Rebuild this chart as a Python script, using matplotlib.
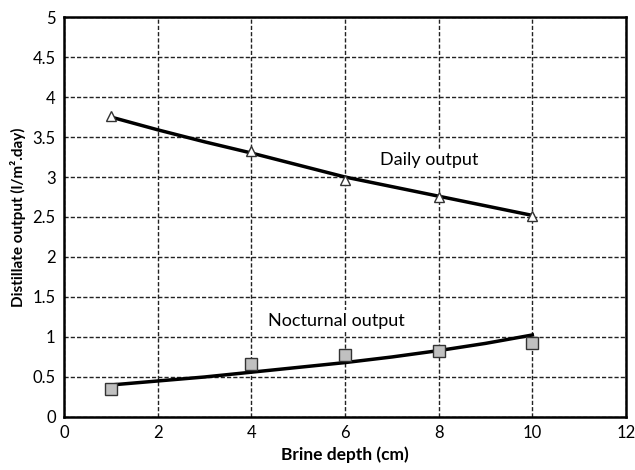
import matplotlib
matplotlib.use("Agg")
import matplotlib.pyplot as plt

plt.rcParams['font.family'] = ['Lato', 'DejaVu Sans']

depth = [1, 4, 6, 8, 10]
daily_obs = [3.76, 3.32, 2.96, 2.75, 2.51]
noct_obs = [0.35, 0.66, 0.78, 0.83, 0.93]

fit_x = [1, 2, 3, 4, 5, 6, 7, 8, 9, 10]
daily_fit = [3.75, 3.59, 3.44, 3.30, 3.15, 3.00, 2.88, 2.76, 2.64, 2.52]
noct_fit = [0.40, 0.45, 0.50, 0.56, 0.62, 0.68, 0.75, 0.83, 0.92, 1.025]

xticks = [0, 2, 4, 6, 8, 10, 12]
yticks = [0, 0.5, 1, 1.5, 2, 2.5, 3, 3.5, 4, 4.5, 5]
yticklabels = ['0', '0.5', '1', '1.5', '2', '2.5', '3', '3.5', '4', '4.5', '5']

fig = plt.figure(figsize=(6.35, 4.70), dpi=100)
ax = fig.add_axes([0.1008, 0.1128, 0.885, 0.851])

ax.plot(fit_x, daily_fit, color='black', lw=2.5, zorder=3)
ax.plot(fit_x, noct_fit, color='black', lw=2.5, zorder=3)
ax.plot(depth, daily_obs, linestyle='none', marker='^', markersize=7,
        markerfacecolor='white', markeredgecolor='#333333', markeredgewidth=1, zorder=4)
ax.plot(depth, noct_obs, linestyle='none', marker='s', markersize=8,
        markerfacecolor='#c0c0c0', markeredgecolor='#333333', markeredgewidth=1, zorder=4)

ax.set_xlim(0, 12)
ax.set_ylim(0, 5)
ax.set_xticks(xticks)
ax.set_yticks(yticks)
ax.set_yticklabels(yticklabels)
ax.tick_params(length=0, labelsize=12, pad=6)
ax.grid(True, color='#222222', linestyle=(0, (3, 1.5)), linewidth=1)
for s in ax.spines.values():
    s.set_linewidth(1.8)

ax.set_xlabel('Brine depth (cm)', fontsize=12.5, fontweight='bold', labelpad=4)
ax.set_ylabel('Distillate output (l/m\u00b2.day)', fontsize=11, fontweight='bold', labelpad=5)

box = dict(facecolor='white', edgecolor='none', pad=2)
ax.text(6.74, 3.21, 'Daily output', fontsize=13, va='center', ha='left', zorder=5, bbox=box)
ax.text(4.36, 1.20, 'Nocturnal output', fontsize=13, va='center', ha='left', zorder=5, bbox=box)

fig.savefig('out.png', dpi=100)
